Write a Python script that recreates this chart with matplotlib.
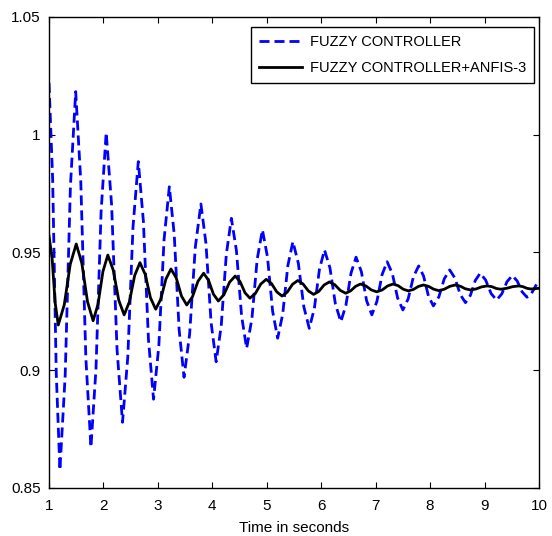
import numpy as np
import matplotlib
matplotlib.use("Agg")
import matplotlib.pyplot as plt
from matplotlib.ticker import FormatStrFormatter

plt.rcParams['font.family'] = ['Liberation Sans', 'DejaVu Sans']

# values (peaks, troughs and points in between)
fuzzy_t = [1.00, 1.067, 1.133, 1.20, 1.297, 1.393, 1.49, 1.583, 1.677,
           1.77, 1.863, 1.957, 2.05, 2.15, 2.25, 2.35, 2.447, 2.543,
           2.64, 2.733, 2.827, 2.92, 3.017, 3.113, 3.21, 3.30, 3.39,
           3.48, 3.583, 3.687, 3.79, 3.883, 3.977, 4.07, 4.163, 4.257,
           4.35, 4.443, 4.537, 4.63, 4.727, 4.823, 4.92, 5.013, 5.107,
           5.20, 5.293, 5.387, 5.48, 5.58, 5.68, 5.78, 5.873, 5.967,
           6.06, 6.16, 6.26, 6.36, 6.453, 6.547, 6.64, 6.737, 6.833,
           6.93, 7.023, 7.117, 7.21, 7.307, 7.403, 7.50, 7.597, 7.693,
           7.79, 7.88, 7.97, 8.06, 8.16, 8.26, 8.36, 8.457, 8.553,
           8.65, 8.74, 8.83, 8.92, 9.02, 9.12, 9.22, 9.317, 9.413,
           9.51, 9.60, 9.69, 9.78, 9.85, 9.92, 10.0]
fuzzy_y = [1.0220, 0.9809, 0.8987, 0.8576, 0.8978, 0.9781, 1.0183, 0.9805, 0.9050,
           0.8673, 0.9007, 0.9675, 1.0009, 0.9701, 0.9086, 0.8779, 0.9056, 0.9609,
           0.9886, 0.9634, 0.9129, 0.8877, 0.9103, 0.9554, 0.9779, 0.9577, 0.9172,
           0.8970, 0.9154, 0.9522, 0.9706, 0.9538, 0.9203, 0.9036, 0.9188, 0.9493,
           0.9645, 0.9507, 0.9231, 0.9093, 0.9219, 0.9470, 0.9596, 0.9481, 0.9251,
           0.9136, 0.9239, 0.9444, 0.9546, 0.9454, 0.9270, 0.9178, 0.9261, 0.9428,
           0.9511, 0.9435, 0.9282, 0.9206, 0.9275, 0.9412, 0.9480, 0.9419, 0.9296,
           0.9235, 0.9292, 0.9405, 0.9461, 0.9410, 0.9307, 0.9256, 0.9303, 0.9396,
           0.9443, 0.9400, 0.9315, 0.9273, 0.9311, 0.9388, 0.9426, 0.9391, 0.9322,
           0.9287, 0.9318, 0.9381, 0.9412, 0.9383, 0.9326, 0.9298, 0.9324, 0.9376,
           0.9402, 0.9379, 0.9333, 0.9310, 0.9321, 0.9350, 0.9383]

anfis_t = [1.00, 1.057, 1.113, 1.17, 1.28, 1.39, 1.50, 1.603, 1.707,
           1.81, 1.90, 1.99, 2.08, 2.18, 2.28, 2.38, 2.477, 2.573,
           2.67, 2.767, 2.863, 2.96, 3.053, 3.147, 3.24, 3.337, 3.433,
           3.53, 3.633, 3.737, 3.84, 3.93, 4.02, 4.11, 4.213, 4.317,
           4.42, 4.51, 4.60, 4.69, 4.79, 4.89, 4.99, 5.087, 5.183,
           5.28, 5.377, 5.473, 5.57, 5.667, 5.763, 5.86, 5.957, 6.053,
           6.15, 6.25, 6.35, 6.45, 6.54, 6.63, 6.72, 6.82, 6.92,
           7.02, 7.12, 7.22, 7.32, 7.413, 7.507, 7.60, 7.693, 7.787,
           7.88, 7.973, 8.067, 8.16, 8.26, 8.36, 8.46, 8.553, 8.647,
           8.74, 8.843, 8.947, 9.05, 9.133, 9.217, 9.30, 9.41, 9.52,
           9.63, 9.703, 9.777, 9.85, 9.92, 10.0]
anfis_y = [0.9570, 0.9475, 0.9286, 0.9192, 0.9278, 0.9450, 0.9536, 0.9454, 0.9291,
           0.9210, 0.9280, 0.9419, 0.9489, 0.9425, 0.9298, 0.9235, 0.9291, 0.9402,
           0.9457, 0.9407, 0.9308, 0.9259, 0.9302, 0.9387, 0.9430, 0.9392, 0.9315,
           0.9277, 0.9311, 0.9378, 0.9412, 0.9382, 0.9323, 0.9294, 0.9321, 0.9374,
           0.9400, 0.9376, 0.9329, 0.9306, 0.9326, 0.9366, 0.9386, 0.9368, 0.9333,
           0.9315, 0.9332, 0.9365, 0.9381, 0.9366, 0.9337, 0.9322, 0.9335, 0.9362,
           0.9375, 0.9363, 0.9339, 0.9327, 0.9337, 0.9356, 0.9366, 0.9358, 0.9341,
           0.9333, 0.9341, 0.9358, 0.9366, 0.9359, 0.9344, 0.9337, 0.9343, 0.9356,
           0.9362, 0.9356, 0.9344, 0.9338, 0.9344, 0.9356, 0.9362, 0.9357, 0.9346,
           0.9341, 0.9345, 0.9354, 0.9358, 0.9355, 0.9347, 0.9344, 0.9348, 0.9355,
           0.9358, 0.9355, 0.9348, 0.9345, 0.9346, 0.9348]

x_ticks = [1, 2, 3, 4, 5, 6, 7, 8, 9, 10]
y_ticks = [0.85, 0.9, 0.95, 1, 1.05]

fig = plt.figure(figsize=(5.52, 5.36), dpi=100)
ax = fig.add_axes([0.0888, 0.0896, 0.8876, 0.8787])

ax.plot(fuzzy_t, fuzzy_y, color=(0, 0, 1), lw=2, linestyle=(0, (3.6, 1.8)),
        label='FUZZY CONTROLLER')
ax.plot(anfis_t, anfis_y, color='k', lw=2, label='FUZZY CONTROLLER+ANFIS-3')

ax.set_xlim(1, 10)
ax.set_ylim(0.85, 1.05)
ax.set_xticks(x_ticks)
ax.set_yticks(y_ticks)
ax.yaxis.set_major_formatter(FormatStrFormatter('%g'))
ax.tick_params(axis='both', direction='in', top=True, right=True, length=4,
               width=0.8, labelsize=11)
ax.tick_params(axis='x', pad=8)
ax.tick_params(axis='y', pad=6)
for s in ax.spines.values():
    s.set_linewidth(1)

ax.set_xlabel('Time in seconds', fontsize=11, labelpad=6)

leg = ax.legend(loc='upper right', bbox_to_anchor=(0.9898, 0.9788), fontsize=10.5,
                handlelength=3.0, borderaxespad=0, fancybox=False, framealpha=1,
                borderpad=0.55, labelspacing=0.85, handletextpad=0.5)
leg.get_frame().set_edgecolor('k')
leg.get_frame().set_linewidth(1)

plt.savefig("out.png", dpi=100)
